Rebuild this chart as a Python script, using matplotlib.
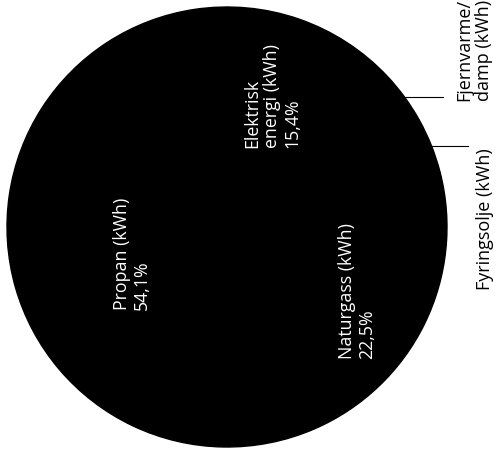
import numpy as np
import matplotlib.pyplot as plt

plt.rcParams['font.family'] = ['Open Sans', 'DejaVu Sans']

# slice data (percent of kWh)
categories = ['Propan (kWh)', 'Naturgass (kWh)', 'Fyringsolje (kWh)',
              'Fjernvarme/\ndamp (kWh)', 'Elektrisk\nenergi (kWh)']
shares = [54.1, 22.5, 4.1, 3.9, 15.4]
inside = [True, True, False, False, True]
inside_radius = [0.45, 0.66, 0, 0, 0.63]
start_angle = 98.6

W, H = 496, 449
cx, cy, r = 227, 227, 220

fig = plt.figure(figsize=(W / 100, H / 100), dpi=100)
ax = fig.add_axes([0, 0, 1, 1])

wedges, _ = ax.pie(shares, colors=['black'] * len(shares), startangle=start_angle,
                   counterclock=True, radius=1, center=(0, 0), frame=True,
                   wedgeprops=dict(linewidth=1.0, edgecolor='black'))
ax.set_xlim(-cx / r, (W - cx) / r)
ax.set_ylim(-(H - cy) / r, cy / r)
ax.set_aspect('auto')
ax.axis('off')


def to_data(px, py):
    return (px - cx) / r, (cy - py) / r


# outside label anchors in pixel space (x end of leader, label x, label bottom)
outside_pos = {2: (468, 485, 290), 3: (443, 474, 101)}

for i, w in enumerate(wedges):
    mid = np.deg2rad((w.theta1 + w.theta2) / 2)
    if inside[i]:
        d = inside_radius[i]
        label = f"{categories[i]}\n{shares[i]:.1f}%".replace('.', ',')
        ax.text(d * np.cos(mid), d * np.sin(mid), label, color='white',
                fontsize=12.8, rotation=90, ha='center', va='center',
                multialignment='left', linespacing=1.15)
    else:
        x0, y0 = np.cos(mid), np.sin(mid)
        lx_end, tx, ty = outside_pos[i]
        x1, _ = to_data(lx_end, 0)
        ax.plot([x0, x1], [y0, y0], color='black', linewidth=0.8)
        txd, tyd = to_data(tx, ty)
        ax.text(txd, tyd, categories[i], color='black', fontsize=13,
                rotation=90, ha='center', va='bottom', multialignment='left',
                linespacing=1.1)

fig.savefig('out.png', dpi=100)
